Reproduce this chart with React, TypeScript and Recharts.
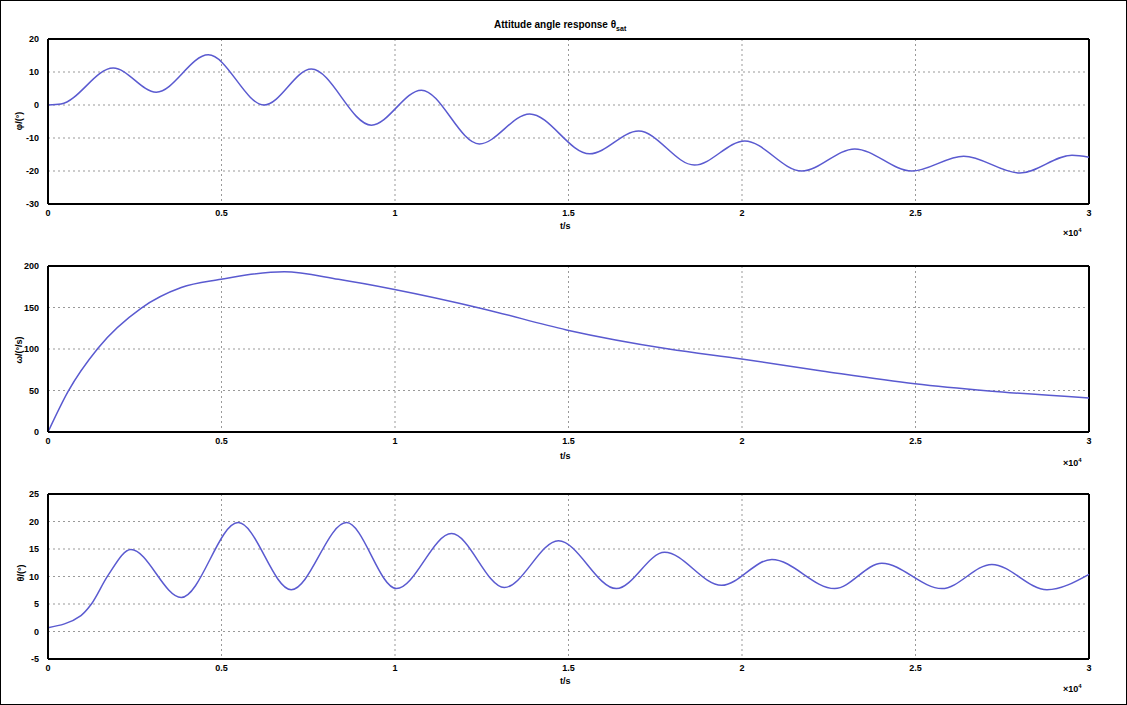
import { LineChart, Line, XAxis, YAxis, CartesianGrid, ReferenceLine } from 'recharts'

// time in units of 1e4 s
const xTicks = [0, 0.5, 1, 1.5, 2, 2.5, 3]

const topTime = [0, 0.0375, 0.188, 0.312, 0.462, 0.623, 0.759, 0.932, 1.076, 1.243, 1.388, 1.561, 1.702, 1.863, 2.008, 2.172, 2.325, 2.489, 2.639, 2.801, 2.951, 3.0]
const topValue = [0, 0.3, 11.2, 3.9, 15.2, 0, 10.9, -6.1, 4.5, -11.8, -2.7, -14.8, -7.9, -18.2, -10.9, -20, -13.3, -20, -15.5, -20.6, -15.2, -15.8]
const topTicks = [-30, -20, -10, 0, 10, 20]

const midTime = [0, 0.058, 0.144, 0.268, 0.384, 0.499, 0.585, 0.681, 0.837, 0.995, 1.258, 1.494, 1.789, 1.999, 2.23, 2.498, 2.712, 3.0]
const midValue = [0, 49, 101, 149, 174, 184, 190, 193, 184, 172, 148, 123, 100, 88, 73.5, 58, 49.4, 41]
const midTicks = [0, 50, 100, 150, 200]

const botTime = [0, 0.095, 0.124, 0.173, 0.239, 0.384, 0.548, 0.701, 0.86, 1.004, 1.163, 1.315, 1.471, 1.638, 1.777, 1.941, 2.086, 2.267, 2.403, 2.576, 2.72, 2.879, 3.0]
const botValue = [0.7, 2.9, 4.9, 10.2, 14.9, 6.2, 19.8, 7.6, 19.8, 7.8, 17.8, 8.0, 16.5, 7.8, 14.4, 8.4, 13.1, 7.8, 12.4, 7.8, 12.2, 7.6, 10.4]
const botTicks = [-5, 0, 5, 10, 15, 20, 25]

const font = { fontFamily: 'Liberation Sans, Arial, sans-serif', fontSize: 9, fontWeight: 700, fill: '#000' }

function Panel({ top, height, margin, times, values, ticks }: any) {
 const data = times.map((t: number, i: number) => ({ t, v: values[i] }))
 const lo = ticks[0]
 const hi = ticks[ticks.length - 1]
 return (
 <div style={{ position: 'absolute', left: 0, top }}>
 <LineChart width={1127} height={height} data={data} margin={margin}>
 <CartesianGrid stroke="#999" strokeDasharray="2 3" horizontalValues={ticks} verticalValues={xTicks}/>
 <XAxis dataKey="t" type="number" domain={[0, 3]} ticks={xTicks} height={30}
 axisLine={{ stroke: '#000', strokeWidth: 2 }} tickLine={false} tickMargin={0} tick={font}/>
 <YAxis type="number" domain={[lo, hi]} ticks={ticks} width={40} allowDataOverflow
 axisLine={{ stroke: '#000', strokeWidth: 2 }} tickLine={false} tickMargin={3} tick={font}/>
 <ReferenceLine y={hi} stroke="#000" strokeWidth={2}/>
 <ReferenceLine x={3} stroke="#000" strokeWidth={2}/>
 <Line type="monotone" dataKey="v" stroke="#5a5ad0" strokeWidth={1.5} dot={false} isAnimationActive={false}/>
 </LineChart>
 </div>
 )
}

const labelStyle: any = { position: 'absolute', fontFamily: 'Liberation Sans, Arial, sans-serif', fontSize: 9, fontWeight: 700, color: '#000', whiteSpace: 'nowrap' }

function YLabel({ text, x, y }: any) {
 return (
 <div style={{ ...labelStyle, left: x, top: y, transform: 'translate(-50%, -50%) rotate(-90deg)' }}>{text}</div>
 )
}

export default function App() {
 return (
 <div style={{ position: 'absolute', left: 0, top: 0, width: 1125, height: 703, border: '1px solid #000', background: '#fff', overflow: 'hidden' }}>
 <div style={{ ...labelStyle, left: 493, top: 18, fontSize: 10 }}>
 Attitude angle response θ<sub style={{ fontSize: 7 }}>sat</sub>
 </div>
 <Panel top={0} height={240} margin={{ top: 38, right: 39, bottom: 7, left: 7 }} times={topTime} values={topValue} ticks={topTicks}/>
 <Panel top={240} height={230} margin={{ top: 25, right: 39, bottom: 9, left: 7 }} times={midTime} values={midValue} ticks={midTicks}/>
 <Panel top={470} height={235} margin={{ top: 23, right: 39, bottom: 17, left: 7 }} times={botTime} values={botValue} ticks={botTicks}/>
 <YLabel text="φ/(°)" x={18} y={120}/>
 <YLabel text="ω/(°/s)" x={18} y={349}/>
 <YLabel text="θ/(°)" x={20} y={572}/>
 {[220, 450, 675].map((y) => (
 <div key={y} style={{ ...labelStyle, left: 559, top: y }}>t/s</div>
 ))}
 {[226, 456, 682].map((y) => (
 <div key={y} style={{ ...labelStyle, left: 1062, top: y }}>×10<sup style={{ fontSize: 6 }}>4</sup></div>
 ))}
 </div>
 )
}
